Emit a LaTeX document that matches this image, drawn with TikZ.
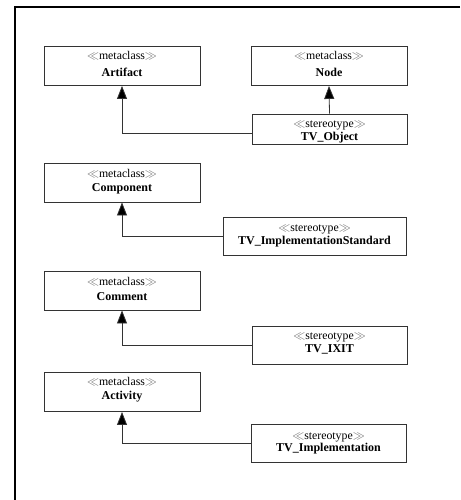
\documentclass[tikz,border=0pt]{standalone}
\usepackage{fontspec}
\setmainfont{Liberation Serif}
\usetikzlibrary{arrows.meta}

\definecolor{edgegray}{HTML}{333333}
\definecolor{guillgray}{HTML}{6E6E6E}

\newcommand{\stereo}[1]{{\fontsize{11.8}{12}\selectfont\textcolor{guillgray}{$\ll$}#1\textcolor{guillgray}{$\gg$}}}
\newcommand{\clsname}[1]{{\fontsize{12}{12}\selectfont\bfseries #1}}

\tikzset{
  umlbox/.style={draw=edgegray, line width=0.9pt, fill=white, rectangle, inner sep=0pt},
  metabox/.style={umlbox, minimum width=156pt, minimum height=39pt},
  stereobox/.style={umlbox, minimum height=38pt},
  txt/.style={inner sep=0pt, anchor=center},
  extends/.style={draw=edgegray, line width=0.8pt, -{Triangle[length=13pt,width=10pt,fill=black]}},
  frame/.style={draw=black, line width=2.2pt}
}

\begin{document}
\begin{tikzpicture}[x=1pt, y=-1pt]
  \useasboundingbox (0,0) rectangle (460,500);

  % outer frame (top and left edges)
  \draw[frame] (460,7) -- (15,7) -- (15,500);

  % metaclasses
  \node[metabox] (art)  at (122,66)    {};
  \node[metabox] (node) at (329,66)    {};
  \node[metabox] (comp) at (122,182.5) {};
  \node[metabox] (comm) at (122,290.5) {};
  \node[metabox] (act)  at (122,392)   {};

  % stereotypes
  \node[umlbox, minimum width=155pt, minimum height=30pt] (tvobj) at (329.5,129) {};
  \node[stereobox, minimum width=183pt] (tvis)   at (314.5,236)   {};
  \node[stereobox, minimum width=155pt] (tvixit) at (329.5,345.5) {};
  \node[stereobox, minimum width=155pt] (tvimpl) at (328.5,443.5) {};

  % labels of the metaclasses
  \node[txt] (artS)  at ([yshift=-10pt]art.north)  {\stereo{metaclass}};
  \node[txt] (artN)  at ([yshift=-26pt]art.north)  {\clsname{Artifact}};
  \node[txt] (nodeS) at ([yshift=-10pt]node.north) {\stereo{metaclass}};
  \node[txt] (nodeN) at ([yshift=-26pt]node.north) {\clsname{Node}};
  \node[txt] (compS) at ([yshift=-11pt]comp.north) {\stereo{metaclass}};
  \node[txt] (compN) at ([yshift=-26pt]comp.north) {\clsname{Component}};
  \node[txt] (commS) at ([yshift=-11pt]comm.north) {\stereo{metaclass}};
  \node[txt] (commN) at ([yshift=-26pt]comm.north) {\clsname{Comment}};
  \node[txt] (actS)  at ([yshift=-10pt]act.north)  {\stereo{metaclass}};
  \node[txt] (actN)  at ([yshift=-25pt]act.north)  {\clsname{Activity}};

  % labels of the stereotypes
  \node[txt] (tvobjS)  at ([yshift=-12pt]tvobj.north)  {\stereo{stereotype}};
  \node[txt] (tvobjN)  at ([yshift=-24pt]tvobj.north)  {\clsname{TV\_Object}};
  \node[txt] (tvisS)   at ([yshift=-13pt]tvis.north)   {\stereo{stereotype}};
  \node[txt] (tvisN)   at ([yshift=-25pt]tvis.north)   {\clsname{TV\_ImplementationStandard}};
  \node[txt] (tvixitS) at ([yshift=-11pt]tvixit.north) {\stereo{stereotype}};
  \node[txt] (tvixitN) at ([yshift=-23pt]tvixit.north) {\clsname{TV\_IXIT}};
  \node[txt] (tvimplS) at ([yshift=-13pt]tvimpl.north) {\stereo{stereotype}};
  \node[txt] (tvimplN) at ([yshift=-25pt]tvimpl.north) {\clsname{TV\_Implementation}};

  % extension connectors
  \draw[extends] (tvobj.north) -- (node.south);
  \draw[extends] ([yshift=-4pt]tvobj.west) -| (art.south);
  \draw[extends] (tvis.west) -| (comp.south);
  \draw[extends] (tvixit.west) -| (comm.south);
  \draw[extends] (tvimpl.west) -| (act.south);
\end{tikzpicture}
\end{document}
